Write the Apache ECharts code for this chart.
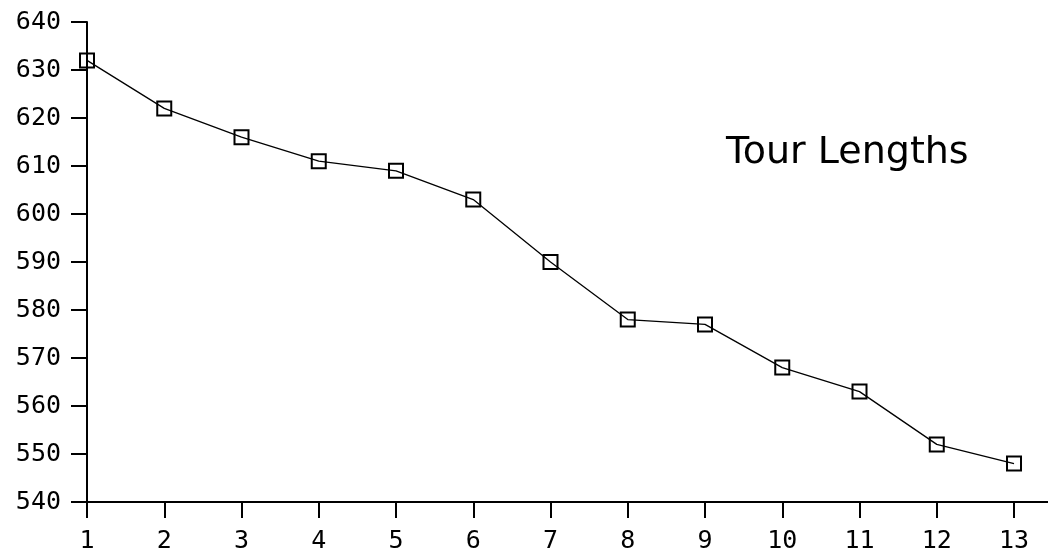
<!DOCTYPE html>
<html>
<head>
<meta charset="utf-8">
<script src="https://cdn.jsdelivr.net/npm/echarts@6/dist/echarts.min.js"></script>
<style>
html,body{margin:0;padding:0;background:#fff;}
#chart{width:1048px;height:554px;}
</style>
</head>
<body>
<div id="chart"></div>
<script>
const iterations = [1,2,3,4,5,6,7,8,9,10,11,12,13];
const tourLengths = [632,622,616,611,609,603,590,578,577,568,563,552,548];
const yTicks = [540,550,560,570,580,590,600,610,620,630,640];
const seriesName = 'Tour Lengths';

const chart = echarts.init(document.getElementById('chart'), null, {renderer:'canvas'});
const tickFont = {fontFamily:'DejaVu Sans Mono', fontSize:25, fontWeight:'normal', color:'#000'};
chart.setOption({
  animation:false,
  backgroundColor:'#fff',
  title:{
    text:seriesName,
    left:721, top:129,
    textStyle:{fontFamily:'DejaVu Sans', fontSize:38, fontWeight:'normal', color:'#000'}
  },
  grid:{left:87, top:22, right:0, bottom:51, containLabel:false},
  xAxis:{
    type:'value',
    min:1, max:13.44, interval:1,
    axisLine:{show:true, onZero:false, lineStyle:{color:'#000', width:2}},
    axisTick:{show:true, inside:false, length:16, lineStyle:{color:'#000', width:2}, customValues:iterations},
    axisLabel:{margin:27, ...tickFont, customValues:iterations},
    splitLine:{show:false}
  },
  yAxis:{
    type:'value',
    min:540, max:640, interval:10,
    axisLine:{show:true, onZero:false, lineStyle:{color:'#000', width:2}},
    axisTick:{show:true, length:16, lineStyle:{color:'#000', width:2}},
    axisLabel:{margin:26, ...tickFont, customValues:yTicks},
    splitLine:{show:false}
  },
  series:[{
    name:seriesName,
    type:'line',
    data:iterations.map((x,i)=>[x, tourLengths[i]]),
    symbol:'rect',
    symbolSize:14,
    lineStyle:{color:'#000', width:1.3},
    itemStyle:{color:'rgba(0,0,0,0)', borderColor:'#000', borderWidth:2},
    clip:false
  }]
});
</script>
</body>
</html>
